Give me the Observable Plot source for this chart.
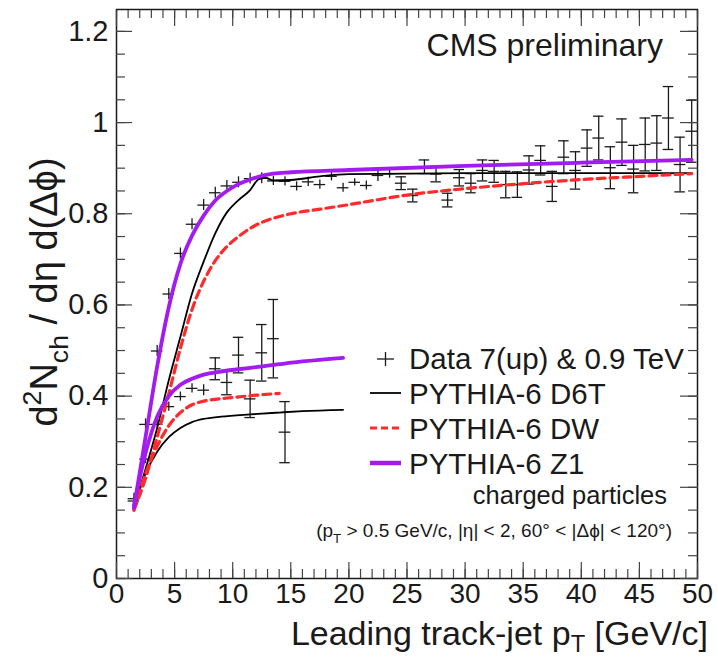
<!DOCTYPE html>
<html><head><meta charset="utf-8">
<script src="https://cdn.jsdelivr.net/npm/d3@7"></script>
<script src="https://cdn.jsdelivr.net/npm/@observablehq/plot@0.6"></script>
<style>html,body{margin:0;padding:0;background:#fff}</style>
</head><body><div id="chart"></div>
<script>
// ---- Data: 7 TeV (upper) ----
const bins7 = [1.5,2.5,3.5,4.5,5.5,6.5,7.5,8.5,9.5,10.5,11.5,12.5,13.5,14.5,15.5,16.5,17.5,18.5,19.5,20.5,21.5,22.5,23.5,24.5,25.5,26.5,27.5,28.5,29.5,30.5,31.5,32.5,33.5,34.5,35.5,36.5,37.5,38.5,39.5,40.5,41.5,42.5,43.5,44.5,45.5,46.5,47.5,48.5,49.5];
const data7 = [0.175,0.338,0.499,0.624,0.713,0.777,0.819,0.846,0.861,0.869,0.877,0.878,0.872,0.871,0.860,0.870,0.864,0.882,0.857,0.869,0.862,0.884,0.888,0.867,0.840,0.903,0.887,0.830,0.879,0.867,0.895,0.893,0.864,0.864,0.896,0.917,0.860,0.924,0.895,0.944,0.966,0.901,0.957,0.898,0.952,0.955,1.010,0.908,0.981];
const err7 = [0.012,0.012,0.012,0.012,0.012,0.012,0.012,0.012,0.012,0.012,0.012,0.012,0.010,0.010,0.010,0.010,0.010,0.010,0.010,0.008,0.010,0.013,0.010,0.014,0.014,0.015,0.017,0.015,0.018,0.021,0.023,0.024,0.029,0.028,0.031,0.032,0.033,0.036,0.041,0.040,0.048,0.046,0.051,0.052,0.058,0.060,0.069,0.060,0.068];
// ---- Data: 0.9 TeV (lower) ----
const bins09 = [1.5,2.5,3.5,4.5,5.5,6.5,7.5,8.5,9.5,10.5,11.5,12.5,13.5,14.5];
const data09 = [0.170,0.262,0.338,0.377,0.399,0.417,0.413,0.460,0.430,0.490,0.394,0.495,0.526,0.321];
const err09 = [0.008,0.010,0.010,0.010,0.010,0.010,0.012,0.024,0.027,0.039,0.041,0.062,0.086,0.067];

// ---- PYTHIA-6 curves, 7 TeV ----
const d6t7X = [1.5,2.5,3.5,4.5,5.5,6.5,7.5,8.5,9.5,10.5,11.5,12.2,12.8,13.5,15,17.5,20,30,40,49.5];
const d6t7Y = [0.155,0.24,0.33,0.435,0.53,0.625,0.695,0.757,0.803,0.83,0.852,0.875,0.879,0.873,0.874,0.882,0.887,0.889,0.889,0.889];
const dw7X = [1.5,2.5,3.5,4.5,5.5,6.5,7.5,8.5,9.5,10.5,11.5,12.5,13.5,15,17.5,20,25,30,35,40,45,49.5];
const dw7Y = [0.15,0.22,0.31,0.405,0.505,0.59,0.652,0.697,0.728,0.75,0.768,0.781,0.79,0.80,0.81,0.82,0.841,0.855,0.866,0.875,0.882,0.888];
const z17X = [1.5,2.5,3.5,4.5,5.5,6.5,7.5,8.5,9.5,10.5,11.5,12.5,13.5,15,20,30,40,49.5];
const z17Y = [0.155,0.31,0.465,0.595,0.69,0.752,0.796,0.829,0.85,0.865,0.875,0.883,0.888,0.891,0.896,0.905,0.912,0.918];
// ---- PYTHIA-6 curves, 0.9 TeV ----
const d6t09X = [1.5,2.5,3.5,4.5,5.5,6.5,7.5,9,11.5,14,16,19.5];
const d6t09Y = [0.155,0.23,0.278,0.31,0.33,0.343,0.35,0.355,0.36,0.364,0.367,0.37];
const dw09X = [1.5,2.5,3.5,4.5,5.5,6.5,7.5,8.5,10,12,14];
const dw09Y = [0.15,0.23,0.29,0.335,0.364,0.381,0.389,0.393,0.397,0.402,0.406];
const z109X = [1.5,2.5,3.5,4.5,5.5,6.5,7.5,9,11.5,14,16,19.5];
const z109Y = [0.16,0.275,0.355,0.40,0.425,0.438,0.447,0.454,0.462,0.47,0.476,0.484];

// ---- Ticks ----
const xMajor = [0,5,10,15,20,25,30,35,40,45,50];
const xMinor = d3.range(0, 51, 1);
const yMajor = [0,0.2,0.4,0.6,0.8,1,1.2];
const yMinor = d3.range(0, 25).map(i => i * 0.05);
const xTickLabels = ["0","5","10","15","20","25","30","35","40","45","50"];
const yTickLabels = ["0","0.2","0.4","0.6","0.8","1","1.2"];

// ---- Build tables ----
const pts = [
  ...bins7.map((x, i) => ({x, y: data7[i], e: err7[i]})),
  ...bins09.map((x, i) => ({x, y: data09[i], e: err09[i]}))
];
const curve = (X, Y, s) => X.map((x, i) => ({x, y: Y[i], s}));
const d6t = [...curve(d6t7X, d6t7Y, "7"), ...curve(d6t09X, d6t09Y, "0.9")];
const dw = [...curve(dw7X, dw7Y, "7"), ...curve(dw09X, dw09Y, "0.9")];
const z1 = [...curve(z17X, z17Y, "7"), ...curve(z109X, z109Y, "0.9")];

const INK = "#1a1a1a", TICK = "#444";
const RED = "#ff2a2a", PURPLE = "#a21cf0";
const FONT = "'Liberation Sans', Arial, sans-serif";

const tickAxis = (fn, ticks, anchor, size) => fn({ticks, anchor, tickSize: -size, fill: "none", label: null, stroke: TICK, strokeWidth: 1.2});

const chart = Plot.plot({
  width: 718, height: 659,
  marginLeft: 116, marginRight: 21, marginTop: 9, marginBottom: 81,
  x: {domain: [0, 50]},
  y: {domain: [0, 1.248]},
  style: {fontFamily: FONT, background: "#fff", color: INK},
  marks: [
    Plot.ruleX(pts, {x: "x", y1: d => d.y - d.e, y2: d => d.y + d.e, stroke: INK, strokeWidth: 1.3}),
    Plot.ruleY(pts, {y: "y", x1: d => d.x - 0.5, x2: d => d.x + 0.5, stroke: INK, strokeWidth: 1.3}),
    Plot.ruleY(pts.filter(d => d.e > 0.013), {y: d => d.y + d.e, x1: d => d.x - 0.45, x2: d => d.x + 0.45, stroke: INK, strokeWidth: 1.3}),
    Plot.ruleY(pts.filter(d => d.e > 0.013), {y: d => d.y - d.e, x1: d => d.x - 0.45, x2: d => d.x + 0.45, stroke: INK, strokeWidth: 1.3}),
    Plot.line(d6t, {x: "x", y: "y", z: "s", stroke: "#000", strokeWidth: 1.8, curve: "monotone-x"}),
    Plot.line(dw, {x: "x", y: "y", z: "s", stroke: RED, strokeWidth: 3.2, strokeDasharray: "8,5", curve: "monotone-x"}),
    Plot.line(z1, {x: "x", y: "y", z: "s", stroke: PURPLE, strokeWidth: 3.8, curve: "monotone-x"}),
    Plot.frame({stroke: INK, strokeWidth: 1.5}),
    tickAxis(Plot.axisX, xMajor, "bottom", 16),
    tickAxis(Plot.axisX, xMinor, "bottom", 9),
    tickAxis(Plot.axisX, xMajor, "top", 16),
    tickAxis(Plot.axisX, xMinor, "top", 8),
    tickAxis(Plot.axisY, yMajor, "left", 16),
    tickAxis(Plot.axisY, yMinor, "left", 9),
    tickAxis(Plot.axisY, yMajor, "right", 18),
    tickAxis(Plot.axisY, yMinor, "right", 10),
    Plot.axisX({ticks: xMajor, anchor: "bottom", tickSize: 0, tickPadding: 5, fontSize: 28, label: null, tickFormat: d => xTickLabels[xMajor.indexOf(d)], fill: INK}),
    Plot.axisY({ticks: yMajor, anchor: "left", tickSize: 0, tickPadding: 8, fontSize: 29, label: null, tickFormat: d => yTickLabels[yMajor.indexOf(d)], fill: INK})
  ]
});
document.getElementById("chart").appendChild(chart);

// ---- Rich texts (titles, legend) ----
const svg = d3.select(chart);
const g = svg.append("g").attr("font-family", FONT).attr("fill", INK);
function rich(x, y, parts, size, anchor = "start", rotate = false, subShift = 0.3) {
  const t = g.append("text").attr("x", x).attr("y", y).attr("font-size", size).attr("text-anchor", anchor);
  if (rotate) t.attr("transform", `rotate(-90 ${x} ${y})`);
  let shift = 0;
  for (const p of parts) {
    const s = t.append("tspan").text(p.t);
    const target = p.sub ? size * subShift : p.sup ? -size * 0.42 : 0;
    if (target !== shift) { s.attr("dy", target - shift); shift = target; }
    if (p.sub || p.sup) s.attr("font-size", size * 0.7);
  }
  return t;
}
rich(708, 645, [{t: "Leading track-jet p"}, {t: "T", sub: true}, {t: " [GeV/c]"}], 34, "end", false, 0.2);
rich(57, 292, [{t: "d"}, {t: "2", sup: true}, {t: "N"}, {t: "ch", sub: true}, {t: " / dη d(Δϕ)"}], 38, "middle", true);
rich(663, 56, [{t: "CMS preliminary"}], 32, "end");
const lx = 409;
rich(lx, 369, [{t: "Data 7(up) & 0.9 TeV"}], 29.5);
rich(lx, 404, [{t: "PYTHIA-6 D6T"}], 29.5);
rich(lx, 439, [{t: "PYTHIA-6 DW"}], 29.5);
rich(lx, 474, [{t: "PYTHIA-6 Z1"}], 29.5);
rich(667, 504, [{t: "charged particles"}], 25.5, "end");
rich(672, 537, [{t: "(p"}, {t: "T", sub: true}, {t: " > 0.5 GeV/c, |η| < 2, 60° < |Δϕ| < 120°)"}], 19, "end");
const sym = svg.append("g");
sym.append("line").attr("x1", 377).attr("x2", 394).attr("y1", 359).attr("y2", 359).attr("stroke", INK).attr("stroke-width", 1.3);
sym.append("line").attr("x1", 385.5).attr("x2", 385.5).attr("y1", 352).attr("y2", 366).attr("stroke", INK).attr("stroke-width", 1.3);
sym.append("line").attr("x1", 370).attr("x2", 401).attr("y1", 393).attr("y2", 393).attr("stroke", "#000").attr("stroke-width", 1.8);
sym.append("line").attr("x1", 370).attr("x2", 401).attr("y1", 428).attr("y2", 428).attr("stroke", RED).attr("stroke-width", 3.2).attr("stroke-dasharray", "7,4");
sym.append("line").attr("x1", 370).attr("x2", 401).attr("y1", 463).attr("y2", 463).attr("stroke", PURPLE).attr("stroke-width", 4.5);
</script></body></html>
